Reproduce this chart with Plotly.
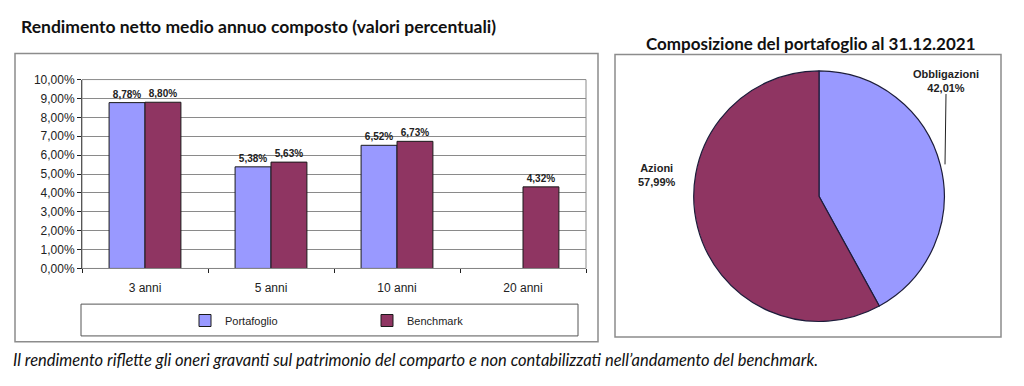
import plotly.graph_objects as go

# ---- data ----
categories = ["3 anni", "5 anni", "10 anni", "20 anni"]
portafoglio = [8.78, 5.38, 6.52, None]
benchmark = [8.80, 5.63, 6.73, 4.32]
y_ticks = [0, 1, 2, 3, 4, 5, 6, 7, 8, 9, 10]

pie_labels = ["Obbligazioni", "Azioni"]
pie_values = [42.01, 57.99]

title_left = "Rendimento netto medio annuo composto (valori percentuali)"
title_right = "Composizione del portafoglio al 31.12.2021"
footnote = ("Il rendimento riflette gli oneri gravanti sul patrimonio del comparto "
            "e non contabilizzati nell\u2019andamento del benchmark.")

# ---- styling ----
W, H = 1024, 386
OFF = 8  # page body margin
C_PORT = "#9999FF"
C_BENCH = "#8F3562"
SANS = "Liberation Sans, Arial, sans-serif"
TITLEF = "Lato, Carlito, Calibri, sans-serif"


def px(x):
    return (x - OFF) / W


def py(y):
    return 1 - (y - OFF) / H


def pct(v):
    return f"{v:.2f}".replace(".", ",") + "%"


fig = go.Figure()

fig.add_trace(go.Bar(
    x=categories, y=portafoglio, name="Portafoglio",
    marker=dict(color=C_PORT, line=dict(color="#1a1a1a", width=1)),
    text=[f"<b>{pct(v)}</b>" if v is not None else "" for v in portafoglio],
    textposition="outside", cliponaxis=False,
    textfont=dict(family=SANS, size=10, color="#222"),
))
fig.add_trace(go.Bar(
    x=categories, y=benchmark, name="Benchmark",
    marker=dict(color=C_BENCH, line=dict(color="#1a1a1a", width=1)),
    text=[f"<b>{pct(v)}</b>" for v in benchmark],
    textposition="outside", cliponaxis=False,
    textfont=dict(family=SANS, size=10, color="#222"),
))

fig.add_trace(go.Pie(
    labels=pie_labels, values=pie_values, sort=False,
    direction="clockwise", rotation=0,
    marker=dict(colors=[C_PORT, C_BENCH], line=dict(color="#1c1c3a", width=1.2)),
    textinfo="none", hoverinfo="label+percent", showlegend=False,
    domain=dict(x=[px(688), px(950)], y=[py(326), py(66)]),
))

fig.update_layout(
    width=W, height=H, autosize=False,
    margin=dict(l=0, r=0, t=0, b=0),
    paper_bgcolor="white", plot_bgcolor="white",
    separators=",.",
    barmode="group", bargap=0.43, bargroupgap=0,
    xaxis=dict(
        domain=[px(82), px(586)],
        showline=True, linecolor="#222", linewidth=1,
        ticks="outside", tickson="boundaries", ticklen=4, tickcolor="#222",
        tickfont=dict(family=SANS, size=12, color="#222"),
        ticklabelstandoff=8,
        showgrid=False,
    ),
    yaxis=dict(
        domain=[py(271), py(75)],
        range=[0, 10], tickmode="array", tickvals=y_ticks,
        ticktext=[pct(v) for v in y_ticks],
        showline=True, linecolor="#222", linewidth=1,
        ticks="outside", ticklen=4, tickcolor="#222",
        tickfont=dict(family=SANS, size=12, color="#222"),
        gridcolor="#8a8a8a", gridwidth=1,
        zeroline=False,
    ),
    legend=dict(
        orientation="h", x=px(185), y=py(325), xanchor="left", yanchor="middle",
        font=dict(family=SANS, size=11, color="#222"),
        entrywidth=137, entrywidthmode="pixels",
        bgcolor="rgba(0,0,0,0)",
        itemclick=False,
    ),
)

shapes = [
    # outer box of bar chart
    dict(type="rect", xref="paper", yref="paper",
         x0=px(15), x1=px(598), y0=py(347), y1=py(48),
         line=dict(color="#8c8c8c", width=1.5)),
    # plot area border
    dict(type="rect", xref="paper", yref="paper",
         x0=px(82), x1=px(586), y0=py(271), y1=py(75),
         line=dict(color="#8a8a8a", width=1)),
    # legend box
    dict(type="rect", xref="paper", yref="paper",
         x0=px(81), x1=px(578), y0=py(341), y1=py(308),
         line=dict(color="#555", width=1)),
    # outer box of pie chart
    dict(type="rect", xref="paper", yref="paper",
         x0=px(615), x1=px(1001), y0=py(342), y1=py(49),
         line=dict(color="#8c8c8c", width=1.5)),
    # leader line for Obbligazioni
    dict(type="line", xref="paper", yref="paper",
         x0=px(946), y0=py(90), x1=px(945), y1=py(163),
         line=dict(color="#222", width=1)),
]
fig.update_layout(shapes=shapes)

annotations = [
    dict(text=f"<b>{title_left}</b>", x=px(19), y=py(20), xref="paper", yref="paper",
         xanchor="left", yanchor="middle", showarrow=False,
         font=dict(family=TITLEF, size=17.5, color="#111")),
    dict(text=f"<b>{title_right}</b>", x=px(811), y=py(38), xref="paper", yref="paper",
         xanchor="center", yanchor="middle", showarrow=False,
         font=dict(family=TITLEF, size=17, color="#111")),
    dict(text=f"<i>{footnote}</i>", x=px(11), y=py(366), xref="paper", yref="paper",
         xanchor="left", yanchor="middle", showarrow=False,
         font=dict(family=TITLEF, size=16.5, color="#111")),
    dict(text=f"<b>{pie_labels[0]}</b><br><b>{pct(pie_values[0])}</b>",
         x=px(946), y=py(77), xref="paper", yref="paper",
         xanchor="center", yanchor="middle", showarrow=False,
         font=dict(family=SANS, size=11, color="#222")),
    dict(text=f"<b>{pie_labels[1]}</b><br><b>{pct(pie_values[1])}</b>",
         x=px(657), y=py(174), xref="paper", yref="paper",
         xanchor="center", yanchor="middle", showarrow=False,
         font=dict(family=SANS, size=11, color="#222")),
]
fig.update_layout(annotations=annotations)

fig.write_html("out.html")
